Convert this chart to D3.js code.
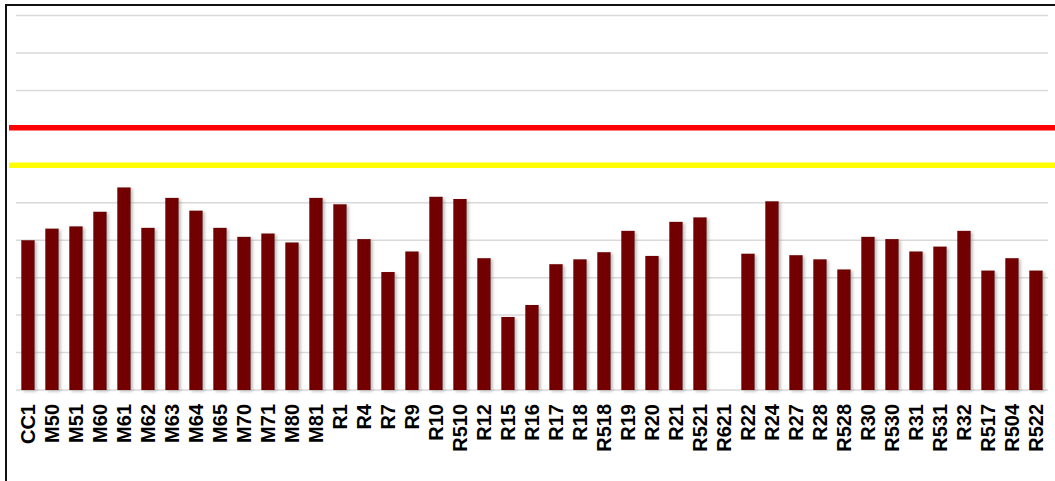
<!DOCTYPE html>
<html>
<head>
<meta charset="utf-8">
<script src="https://cdn.jsdelivr.net/npm/d3@7"></script>
<style>
  html, body { margin: 0; padding: 0; background: #fff; }
  svg { display: block; }
</style>
</head>
<body>
<div id="chart"></div>
<script>
var categories = ["CC1", "M50", "M51", "M60", "M61", "M62", "M63", "M64", "M65", "M70", "M71", "M80",
    "M81", "R1", "R4", "R7", "R9", "R10", "R510", "R12", "R15", "R16", "R17", "R18", "R518", "R19",
    "R20", "R21", "R521", "R621", "R22", "R24", "R27", "R28", "R528", "R30", "R530", "R31", "R531",
    "R32", "R517", "R504", "R522"];

// bar heights (null = no bar)
var values = [40.0, 43.1, 43.7, 47.6, 54.1, 43.3, 51.3, 47.9, 43.3, 40.9, 41.8, 39.4,
    51.3, 49.6, 40.3, 31.5, 37.0, 51.6, 51.0, 35.2, 19.5, 22.7, 33.6, 34.9, 36.8, 42.5,
    35.8, 44.9, 46.1, null, 36.4, 50.4, 36.0, 34.9, 32.2, 40.9, 40.3, 37.0, 38.3,
    42.5, 31.9, 35.2, 31.9];

var gridTicks = [0, 10, 20, 30, 40, 50, 80, 90, 100];
var redLimit = 70;
var yellowLimit = 60;

var width = 1055;
var height = 481;
var margin = {top: 15.5, right: 7, bottom: 91, left: 16};

var svg = d3.select("#chart").append("svg")
    .attr("width", width)
    .attr("height", height);

var defs = svg.append("defs");
var shadow = defs.append("filter")
    .attr("id", "shadow")
    .attr("x", "-30%").attr("y", "-10%")
    .attr("width", "160%").attr("height", "130%");
shadow.append("feDropShadow")
    .attr("dx", 2).attr("dy", 1.5)
    .attr("stdDeviation", 1.5)
    .attr("flood-color", "#888")
    .attr("flood-opacity", 0.55);

var x = d3.scaleBand()
    .domain(categories)
    .range([margin.left, width - margin.right])
    .paddingInner(0.44)
    .paddingOuter(0.22);

var y = d3.scaleLinear()
    .domain([0, 100])
    .range([height - margin.bottom, margin.top]);

// gridlines
svg.append("g")
    .selectAll("line")
    .data(gridTicks)
    .enter().append("line")
    .attr("x1", margin.left)
    .attr("x2", width - margin.right)
    .attr("y1", function (d) { return y(d); })
    .attr("y2", function (d) { return y(d); })
    .attr("stroke", "#d9d9d9")
    .attr("stroke-width", 1.5);

// limit lines
svg.append("line")
    .attr("x1", 9).attr("x2", width)
    .attr("y1", y(redLimit)).attr("y2", y(redLimit))
    .attr("stroke", "#ff0000")
    .attr("stroke-width", 5.5);

svg.append("line")
    .attr("x1", 9).attr("x2", width)
    .attr("y1", y(yellowLimit)).attr("y2", y(yellowLimit))
    .attr("stroke", "#ffff00")
    .attr("stroke-width", 5.5);

// bars
var data = categories.map(function (c, i) { return {name: c, value: values[i]}; })
    .filter(function (d) { return d.value !== null; });

svg.append("g")
    .attr("filter", "url(#shadow)")
    .selectAll("rect")
    .data(data)
    .enter().append("rect")
    .attr("x", function (d) { return x(d.name); })
    .attr("width", x.bandwidth())
    .attr("y", function (d) { return y(d.value); })
    .attr("height", function (d) { return y(0) - y(d.value); })
    .attr("fill", "#720000");

// category axis
var xAxis = svg.append("g")
    .attr("transform", "translate(0," + y(0) + ")")
    .call(d3.axisBottom(x).tickSize(0).tickPadding(0));

xAxis.select(".domain").remove();

xAxis.selectAll("text")
    .attr("transform", "rotate(-90)")
    .attr("x", -14)
    .attr("y", 0)
    .attr("dy", "0.36em")
    .style("text-anchor", "end")
    .style("font-family", "'Liberation Sans', Arial, sans-serif")
    .style("font-size", "20px")
    .style("font-weight", "bold")
    .style("fill", "#000");

// frame
svg.append("rect")
    .attr("x", 6)
    .attr("y", 5)
    .attr("width", width + 10)
    .attr("height", height + 10)
    .attr("fill", "none")
    .attr("stroke", "#111")
    .attr("stroke-width", 2);
</script>
</body>
</html>
